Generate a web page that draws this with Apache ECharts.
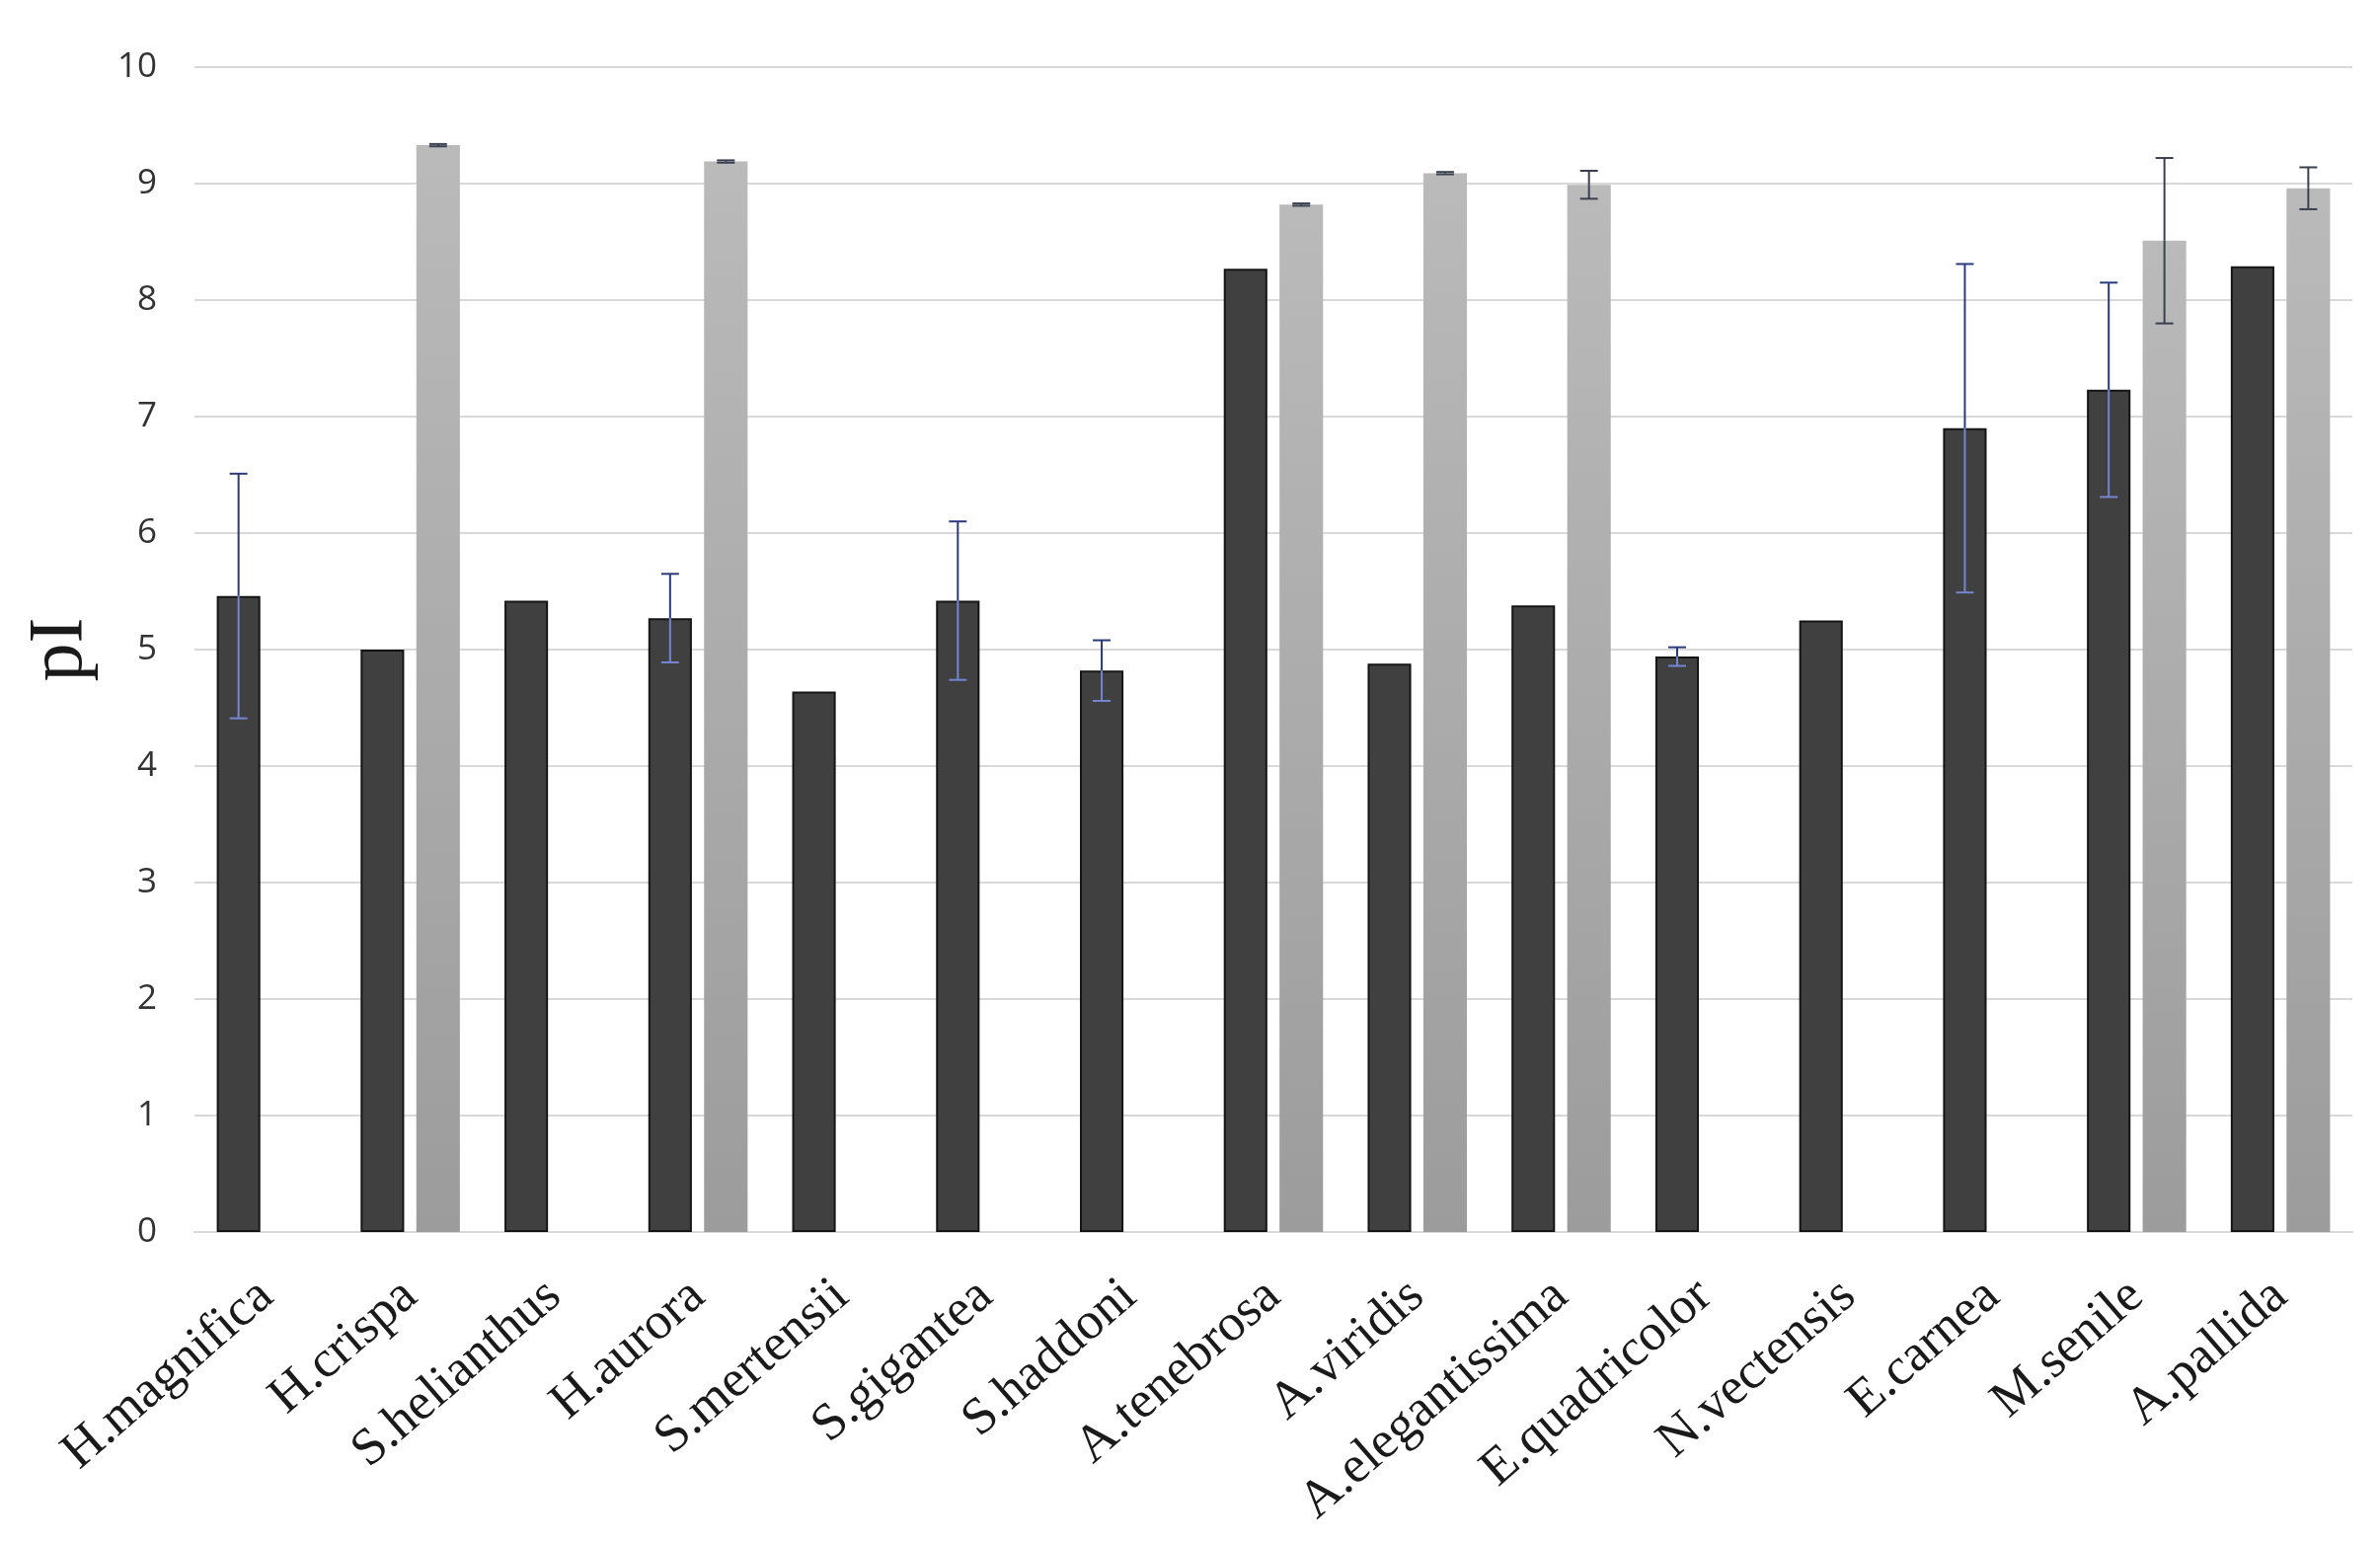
<!DOCTYPE html>
<html>
<head>
<meta charset="utf-8">
<script src="https://cdn.jsdelivr.net/npm/echarts@6/dist/echarts.min.js"></script>
<style>
html,body{margin:0;padding:0;background:#fff;}
#chart{width:2411px;height:1564px;}
</style>
</head>
<body>
<div id="chart"></div>
<script>
const categories = ['H.magnifica','H.crispa','S.helianthus','H.aurora','S.mertensii','S.gigantea','S.haddoni','A.tenebrosa','A.viridis','A.elegantissima','E.quadricolor','N.vectensis','E.carnea','M.senile','A.pallida'];
const darkValues = [5.46, 5.00, 5.42, 5.27, 4.64, 5.42, 4.82, 8.27, 4.88, 5.38, 4.94, 5.25, 6.90, 7.23, 8.29];
const darkErr    = [1.05, 0, 0, 0.38, 0, 0.68, 0.26, 0, 0, 0, 0.08, 0, 1.41, 0.92, 0];
const lightValues = [null, 9.33, null, 9.19, null, null, null, 8.82, 9.09, 8.99, null, null, null, 8.51, 8.96];
const lightErr    = [null, 0.01, null, 0.01, null, null, null, 0.01, 0.01, 0.12, null, null, null, 0.71, 0.18];
const yTicks = [0,1,2,3,4,5,6,7,8,9,10];

const CAT_GAP = 0.31, BAR_GAP = 0.28;

function errRender(side, values, errs, colorTop, colorIn) {
  return function (params, api) {
    const i = api.value(0);
    const v = values[i], e = errs[i];
    if (v == null || e == null || e <= 0) return;
    const catW = api.size([1, 0])[0];
    const band = catW * (1 - CAT_GAP);
    const bw = band / (2 + BAR_GAP);
    const c = api.coord([i, v]);
    const x = side < 0 ? c[0] - band / 2 + bw / 2 : c[0] + band / 2 - bw / 2;
    const mid = c[1];
    const top = api.coord([i, v + e])[1];
    const bot = api.coord([i, v - e])[1];
    const cap = 9;
    const sTop = { stroke: colorTop, lineWidth: 2 };
    const sIn = { stroke: colorIn, lineWidth: 2 };
    return {
      type: 'group',
      children: [
        { type: 'line', shape: { x1: x, y1: top, x2: x, y2: mid }, style: sTop },
        { type: 'line', shape: { x1: x, y1: mid, x2: x, y2: bot }, style: sIn },
        { type: 'line', shape: { x1: x - cap, y1: top, x2: x + cap, y2: top }, style: sTop },
        { type: 'line', shape: { x1: x - cap, y1: bot, x2: x + cap, y2: bot }, style: sIn }
      ]
    };
  };
}

const chart = echarts.init(document.getElementById('chart'));
chart.setOption({
  backgroundColor: '#ffffff',
  animation: false,
  grid: { left: 197, right: 28, top: 68, bottom: 316, containLabel: false, outerBoundsMode: 'none' },
  xAxis: {
    type: 'category',
    data: categories,
    axisLine: { show: true, lineStyle: { color: '#d9d9d9', width: 2 } },
    axisTick: { show: false },
    axisLabel: {
      rotate: 41, interval: 0, margin: 58,
      fontFamily: 'Liberation Serif', fontSize: 53, color: '#1a1a1a'
    }
  },
  yAxis: {
    type: 'value', min: 0, max: 10, interval: 1,
    name: 'pI', nameLocation: 'middle', nameGap: 96, nameRotate: 90,
    nameTextStyle: { fontFamily: 'Liberation Serif', fontSize: 78, color: '#1a1a1a' },
    axisLine: { show: false }, axisTick: { show: false },
    axisLabel: {
      margin: 38, fontFamily: 'Open Sans', fontSize: 35, color: '#333333',
      formatter: function (v) { return yTicks.indexOf(v) >= 0 ? String(v) : ''; }
    },
    splitLine: { lineStyle: { color: '#d9d9d9', width: 2 } }
  },
  series: [
    {
      type: 'bar', name: 'dark', data: darkValues,
      barGap: (BAR_GAP * 100) + '%', barCategoryGap: (CAT_GAP * 100) + '%',
      itemStyle: { color: '#404040', borderColor: '#151515', borderWidth: 2 }
    },
    {
      type: 'bar', name: 'light', data: lightValues,
      itemStyle: {
        color: new echarts.graphic.LinearGradient(0, 0, 0, 1, [
          { offset: 0, color: '#bababa' }, { offset: 1, color: '#9c9c9c' }
        ])
      }
    },
    {
      type: 'custom', name: 'darkErr', z: 10,
      data: categories.map((c, i) => [i, darkValues[i]]),
      renderItem: errRender(-1, darkValues, darkErr, '#2b3a7a', '#7486d0')
    },
    {
      type: 'custom', name: 'lightErr', z: 10,
      data: categories.map((c, i) => [i, lightValues[i] == null ? 0 : lightValues[i]]),
      renderItem: errRender(1, lightValues, lightErr, '#3a4050', '#3a4050')
    }
  ]
});
</script>
</body>
</html>
